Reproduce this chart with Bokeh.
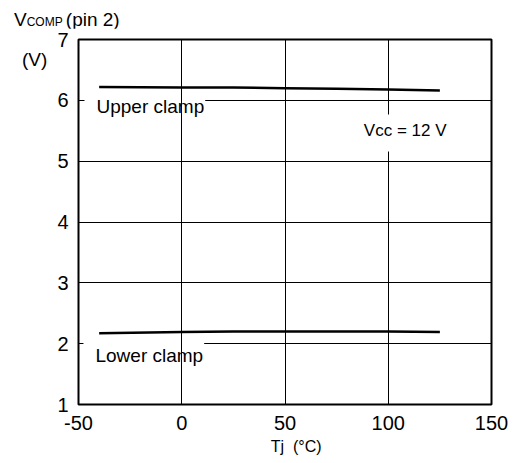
from bokeh.plotting import figure
from bokeh.models import Range1d, FixedTicker, Label, Div
from bokeh.layouts import column, row
from bokeh.embed import file_html
from bokeh.resources import INLINE

# data
tj = [-40, 0, 25, 50, 75, 100, 125]
upper_clamp = [6.22, 6.21, 6.21, 6.20, 6.19, 6.18, 6.16]
lower_clamp = [2.17, 2.19, 2.20, 2.20, 2.20, 2.20, 2.19]
x_ticks = [-50, 0, 50, 100, 150]
y_ticks = [1, 2, 3, 4, 5, 6, 7]

FONT = "Liberation Sans"

title_div = Div(
    text=('<div style="padding:9px 0 0 14px; font-family:\'Liberation Sans\'; font-size:19px; '
          'line-height:22px; white-space:nowrap; color:black">'
          'V<span style="font-size:12px">COMP </span>(pin 2)</div>'),
    width=515, height=28, margin=(0, 0, 0, 0))

unit_div = Div(
    text=('<div style="padding:21px 0 0 22px; font-family:\'Liberation Sans\'; font-size:19px; '
          'line-height:22px; white-space:nowrap; color:black">(V)</div>'),
    width=54, height=434, margin=(0, 0, 0, 0))

p = figure(width=461, height=434, output_backend="svg", toolbar_location=None,
           x_range=Range1d(-50, 150), y_range=Range1d(1, 7),
           min_border_left=23, min_border_right=24, min_border_top=11, min_border_bottom=58,
           margin=(0, 0, 0, 0))

p.outline_line_color = "black"
p.outline_line_width = 2
p.outline_line_alpha = 1
p.background_fill_color = "white"
p.border_fill_color = "white"

for ax in (p.xaxis[0], p.yaxis[0]):
    ax.axis_line_color = None
    ax.major_tick_line_color = None
    ax.minor_tick_line_color = None
    ax.major_tick_out = 0
    ax.major_tick_in = 0
    ax.major_label_text_font = FONT
    ax.major_label_text_font_size = "20px"
    ax.major_label_text_color = "black"

p.xaxis.ticker = FixedTicker(ticks=x_ticks)
p.yaxis.ticker = FixedTicker(ticks=y_ticks)
p.xaxis.major_label_overrides = {t: str(t) for t in x_ticks}
p.yaxis.major_label_overrides = {t: str(t) for t in y_ticks}
p.xaxis.major_label_standoff = 11
p.yaxis.major_label_standoff = 10
p.xaxis.axis_label = "\u00a0\u00a0\u00a0\u00a0\u00a0Tj\u00a0\u00a0(°C)"
p.xaxis.axis_label_text_font = FONT
p.xaxis.axis_label_text_font_size = "16px"
p.xaxis.axis_label_text_font_style = "normal"
p.xaxis.axis_label_text_color = "black"
p.xaxis.axis_label_standoff = 5

p.xgrid.grid_line_color = "black"
p.ygrid.grid_line_color = "black"
p.xgrid.grid_line_width = 1
p.ygrid.grid_line_width = 1
p.xgrid.level = "glyph"

p.line(tj, upper_clamp, line_color="black", line_width=2.5)
p.line(tj, lower_clamp, line_color="black", line_width=2.5)

def lab(x, y, text, size="19px", **kw):
    l = Label(x=x, y=y, text=text, text_font=FONT, text_font_size=size,
              text_color="black", text_align="left", text_baseline="middle", **kw)
    p.add_layout(l)
    return l

# curve labels (white boxes hide the horizontal grid lines)
lab(-47.1, 5.899, "Upper clamp", background_fill_color="white",
    padding={"left": 12, "right": 1, "top": 4, "bottom": 4}, level="underlay")
lab(-47.6, 1.805, "Lower clamp", background_fill_color="white",
    padding={"left": 12, "right": 1, "top": 4, "bottom": 4}, level="underlay")
lab(87.2, 5.463, "Vcc = 12 V", size="17px", background_fill_color="white",
    padding={"left": 2, "right": 2, "top": 6, "bottom": 12})

layout = column(title_div, row(unit_div, p, spacing=0), spacing=0)

open("out.html", "w").write(file_html(layout, INLINE))
